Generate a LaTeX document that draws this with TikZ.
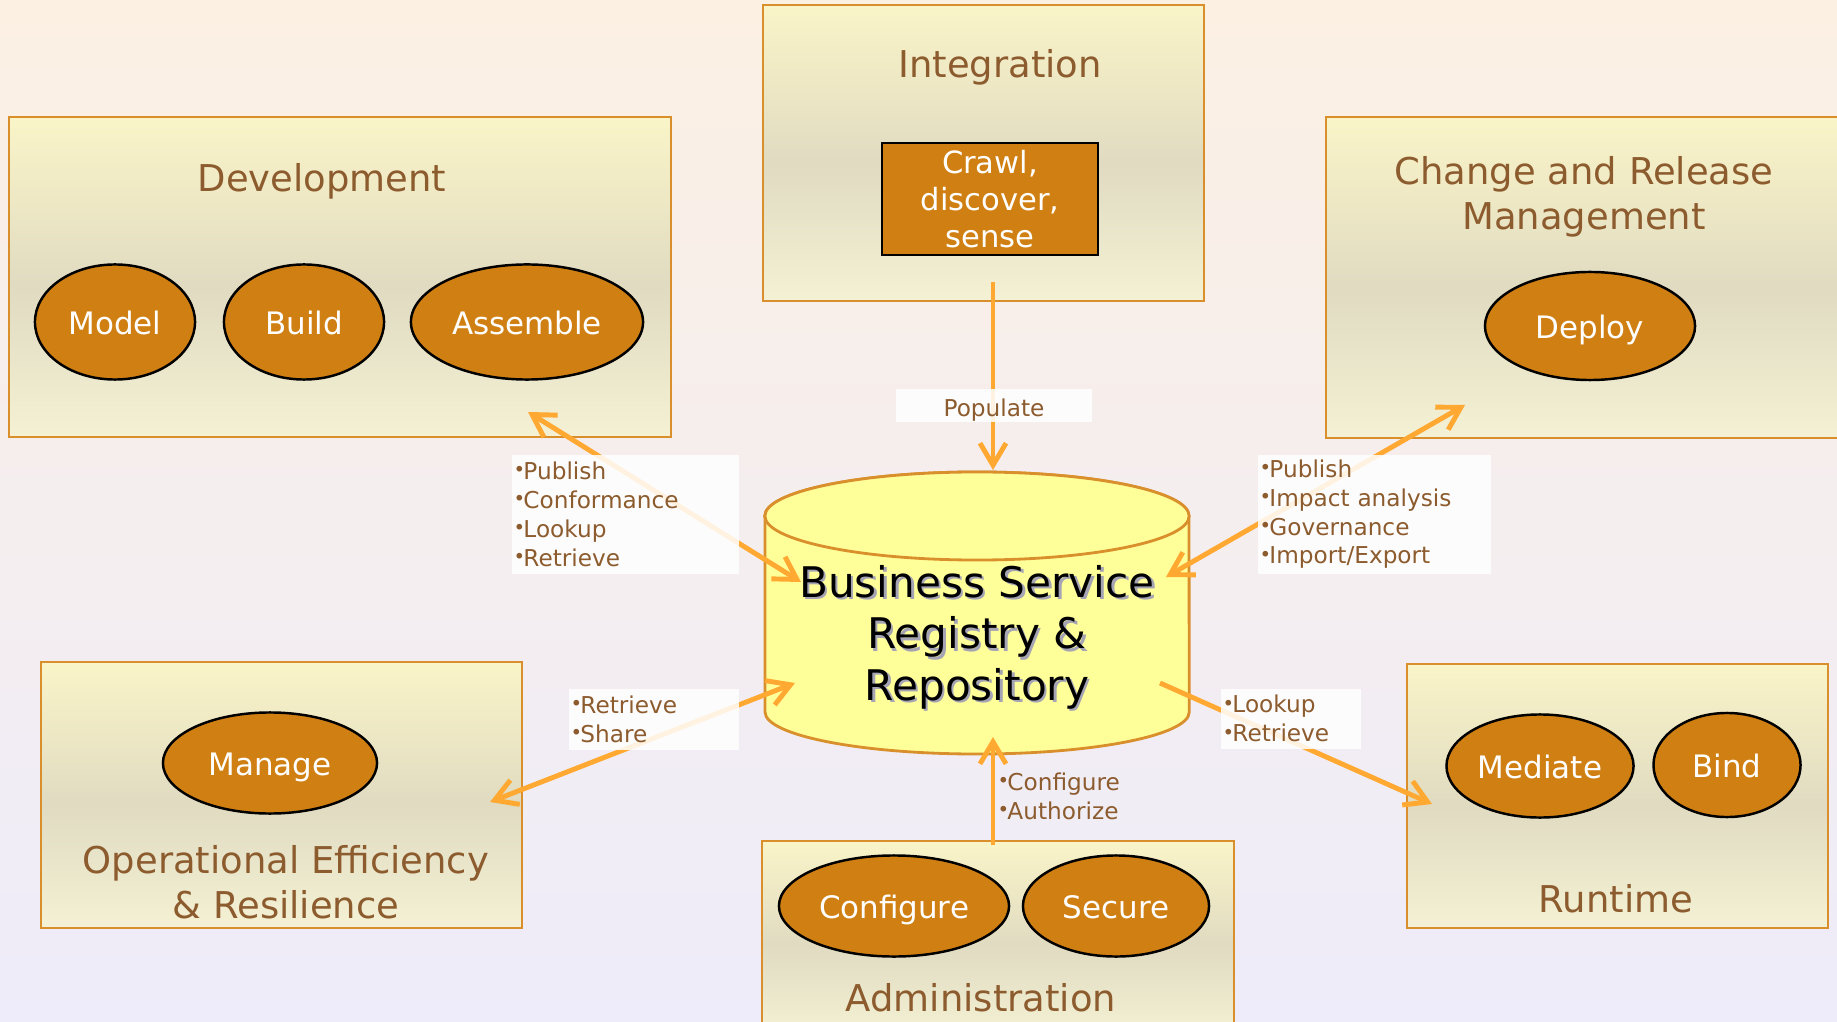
\documentclass[tikz,border=0pt]{standalone}
\usepackage{fontspec, xcolor}
\setmainfont{DejaVu Sans}
\usetikzlibrary{arrows.meta, shapes.geometric}

\definecolor{bgtop}{HTML}{FCF0E3}
\definecolor{bgbot}{HTML}{EEECFA}
\definecolor{boxtop}{HTML}{FAF4C8}
\definecolor{boxmid}{HTML}{E0DBC1}
\definecolor{boxbot}{HTML}{F4F1D4}
\definecolor{boxline}{HTML}{D98F2B}
\definecolor{pillfill}{HTML}{D08013}
\definecolor{brown}{HTML}{8C5B2E}
\definecolor{flow}{HTML}{FFA832}
\definecolor{dbfill}{HTML}{FFFF99}
\definecolor{shadowgrey}{HTML}{A4A4B4}
\pgfdeclareverticalshading{boxshade}{100bp}{color(0bp)=(boxbot); color(25bp)=(boxbot); color(48bp)=(boxmid); color(75bp)=(boxtop); color(100bp)=(boxtop)}
\newcommand{\blt}{{\fontsize{5.6}{5.6}\selectfont\raisebox{0.25ex}{•}}\kern-0.08em}

\begin{document}
\begin{tikzpicture}[x=0.01cm, y=-0.01cm,
    panel/.style={draw=boxline, line width=0.6pt, shade, shading=boxshade, inner sep=0pt},
    paneltitle/.style={text=brown, font=\fontsize{10.5}{12.7}\selectfont, align=center},
    pill/.style={ellipse, draw=black, line width=0.7pt, fill=pillfill, text=white, font=\fontsize{8.8}{10.5}\selectfont, inner sep=0pt, text height=0.73em, text depth=0pt},
    flowline/.style={draw=flow, line width=1.4pt, -{Straight Barb[length=2.2mm, width=2.6mm]}},
    both/.style={{Straight Barb[length=2.2mm, width=2.6mm]}-{Straight Barb[length=2.2mm, width=2.6mm]}},
    note/.style={text=brown, font=\fontsize{6.6}{8.2}\selectfont, align=left, inner sep=0pt},
    notebox/.style={note, fill=white, fill opacity=0.85, text opacity=1, anchor=north west, inner xsep=0.02cm}]
    \useasboundingbox (0,0) rectangle (1837,1022);
    \clip (0,0) rectangle (1837,1022);
    \shade [top color=bgtop, bottom color=bgbot] (0,0) rectangle (1837,1022);

    \node [panel, minimum width=6.62cm, minimum height=3.20cm] (dev) at (340,277) {};
    \node [panel, minimum width=4.41cm, minimum height=2.96cm] (int) at (983.5,153) {};
    \node [panel, minimum width=5.34cm, minimum height=3.21cm] (crm) at (1593,277.5) {};
    \node [panel, minimum width=4.81cm, minimum height=2.66cm] (ops) at (281.5,795) {};
    \node [panel, minimum width=4.72cm, minimum height=1.94cm] (adm) at (998,938) {};
    \node [panel, minimum width=4.21cm, minimum height=2.64cm] (rt) at (1617.5,796) {};

    \node [paneltitle] (devtitle) at (322,181) {Development};
    \node [paneltitle] (inttitle) at (1000,67) {Integration};
    \node [paneltitle] (crmtitle) at (1584,197) {Change and Release\\Management};
    \node [paneltitle] (opstitle) at (286,882) {Operational Efficiency\\\& Resilience};
    \node [paneltitle] (admtitle) at (981,998) {Administration};
    \node [paneltitle] (rttitle) at (1616,899) {Runtime};

    \node [pill, minimum width=1.60cm, minimum height=1.15cm] (model) at (115,322) {Model};
    \node [pill, minimum width=1.60cm, minimum height=1.15cm] (build) at (304,322) {Build};
    \node [pill, minimum width=2.32cm, minimum height=1.15cm] (assemble) at (527,322) {Assemble};
    \node [pill, minimum width=2.10cm, minimum height=1.08cm] (deploy) at (1590,326) {Deploy};
    \node [pill, minimum width=2.14cm, minimum height=1.01cm] (manage) at (270,763) {Manage};
    \node [pill, minimum width=2.30cm, minimum height=1.01cm] (configure) at (894,906) {Configure};
    \node [pill, minimum width=1.86cm, minimum height=1.01cm] (secure) at (1116,906) {Secure};
    \node [pill, minimum width=1.87cm, minimum height=1.03cm] (mediate) at (1540,766) {Mediate};
    \node [pill, minimum width=1.47cm, minimum height=1.04cm] (bind) at (1727,765) {Bind};

    \node [draw=black, line width=0.8pt, fill=pillfill, text=white, align=center, font=\fontsize{8.7}{10.5}\selectfont, minimum width=2.16cm, minimum height=1.12cm, inner sep=0pt] (crawl) at (990,199) {Crawl,\\discover,\\sense};

    \filldraw [fill=dbfill, draw=boxline, line width=0.8pt] (765,516) -- (765,712) arc [start angle=180, end angle=360, x radius=2.12cm, y radius=0.42cm] -- (1189,516) arc [start angle=0, end angle=180, x radius=2.12cm, y radius=0.44cm] -- cycle;
    \draw [fill=dbfill, draw=boxline, line width=0.8pt] (977,516) ellipse [x radius=2.12cm, y radius=0.44cm];
    \node [text=shadowgrey, align=center, font=\fontsize{12}{14.65}\selectfont] (bsrshadow) at (979.5,639.5) {Business Service\\Registry \&\\Repository};
    \node [text=black, align=center, font=\fontsize{12}{14.65}\selectfont] (bsr) at (977,637) {Business Service\\Registry \&\\Repository};

    \coordinate (poptop) at (993,282);
    \coordinate (dbtop) at (993,470);
    \coordinate (devtip) at (528,412);
    \coordinate (dbnw) at (801,582);
    \coordinate (crmtip) at (1465,405);
    \coordinate (dbne) at (1166,577);
    \coordinate (opstip) at (490,802);
    \coordinate (dbsw) at (795,683);
    \coordinate (rttip) at (1432,804);
    \coordinate (dbse) at (1160,683);
    \coordinate (admtop) at (993,845);
    \coordinate (dbbot) at (993,737);

    \draw [flowline] (poptop) -- (dbtop);
    \draw [flowline, both] (dbnw) -- (devtip);
    \draw [flowline, both] (dbne) -- (crmtip);
    \draw [flowline, both] (dbsw) -- (opstip);
    \draw [flowline] (dbse) -- (rttip);
    \draw [flowline] (admtop) -- (dbbot);

    \node [notebox, anchor=center, align=center, text width=1.92cm, minimum height=0.33cm, text height=0.73em, text depth=0.12em] (populate) at (994,405.5) {Populate};
    \node [notebox, text width=2.23cm, minimum height=1.19cm] (devnote) at (511,454) {\blt Publish\\\blt Conformance\\\blt Lookup\\\blt Retrieve};
    \node [notebox, text width=2.29cm, minimum height=1.19cm] (crmnote) at (1257,454) {\blt Publish\\\blt Impact analysis\\\blt Governance\\\blt Import/Export};
    \node [notebox, text width=1.66cm, minimum height=0.61cm] (opsnote) at (568,688) {\blt Retrieve\\\blt Share};
    \node [notebox, text width=1.36cm, minimum height=0.60cm] (rtnote) at (1220,688) {\blt Lookup\\\blt Retrieve};
    \node [note, anchor=west] (admnote) at (997,796) {\blt Configure\\\blt Authorize};
\end{tikzpicture}
\end{document}
